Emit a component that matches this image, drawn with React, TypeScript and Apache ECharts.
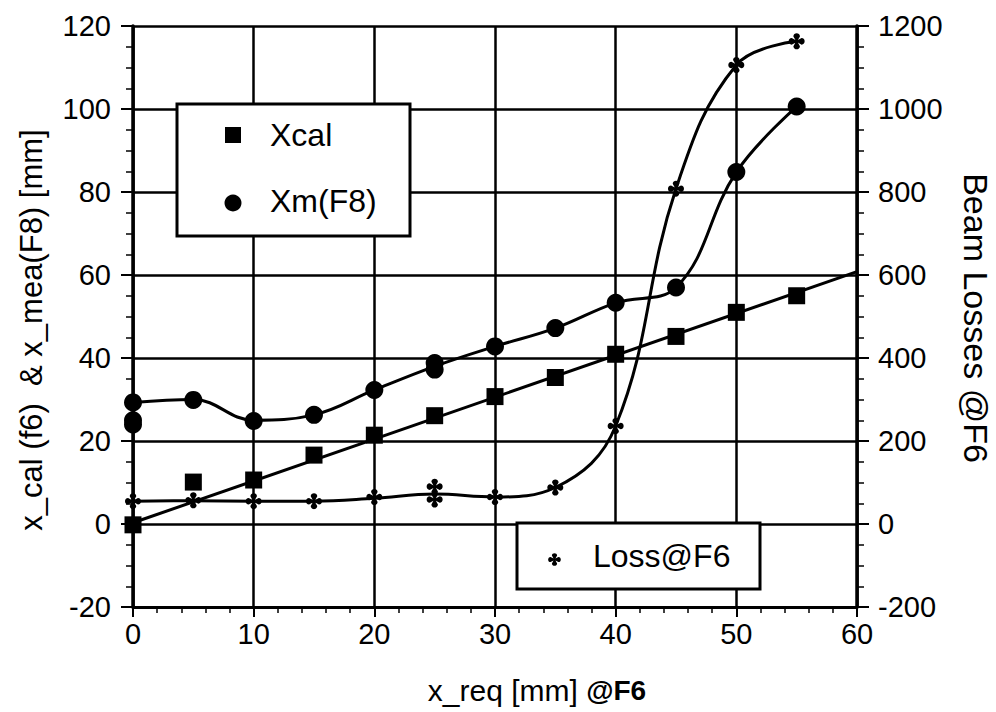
import React, { useEffect, useRef } from 'react';
import * as echarts from 'echarts';

// ---- Data ----
const xcalX = [0, 5, 10, 15, 20, 25, 30, 35, 40, 45, 50, 55];
const xcalY = [-0.2, 10.1, 10.6, 16.6, 21.4, 26.1, 30.7, 35.3, 40.9, 45.2, 51, 55];

const fitX = [0, 60];
const fitY = [0.3, 60.8];

const xmX = [0, 0, 0, 5, 10, 15, 20, 25, 25, 30, 35, 40, 45, 50, 55];
const xmY = [29.3, 25, 24, 29.9, 24.8, 26.3, 32.3, 38.8, 37.2, 42.8, 47.2, 53.3, 57, 84.8, 100.6];

const xmCurveX = [0, 5, 10, 15, 20, 25, 30, 35, 40, 45, 50, 55];
const xmCurveY = [29.3, 30, 25, 26.3, 32.3, 38, 42.8, 47.2, 53.3, 57, 84.8, 100.6];

const lossX = [0, 5, 10, 15, 20, 25, 25, 30, 35, 40, 45, 50, 55];
const lossY = [55, 57, 55, 55, 65, 90, 59, 65, 88, 236, 808, 1106, 1163];

const lossCurveX = [0, 5, 10, 15, 20, 25, 30, 35, 40, 45, 50, 55];
const lossCurveY = [55, 56, 55, 55, 62, 72, 65, 88, 236, 808, 1106, 1163];

const xTicks = { min: 0, max: 60, interval: 10 };
const yLeftTicks = { min: -20, max: 120, interval: 20 };
const yRightTicks = { min: -200, max: 1200, interval: 200 };

const FONT = '"Liberation Sans", Arial, Helvetica, sans-serif';
const LOSS_PATH =
  'M6,4 C6,-1 14,-1 14,4 L11.5,8.5 L16,6 C21,6 21,14 16,14 L11.5,11.5 L14,16 C14,21 6,21 6,16 L8.5,11.5 L4,14 C-1,14 -1,6 4,6 L8.5,8.5 Z';

try {
  echarts.graphic.registerShape('lossMark', echarts.graphic.extendPath(LOSS_PATH, {}));
} catch (e) {
  // already registered
}

const zip = (xs: number[], ys: number[]) => xs.map((x, i) => [x, ys[i]]);

export default function App() {
  const ref = useRef<HTMLDivElement>(null);
  useEffect(() => {
    if (!ref.current) return;
    const chart = echarts.init(ref.current, null, { renderer: 'svg' });
    const axisLabel = { color: '#000', fontSize: 29, fontFamily: FONT };
    const option: any = {
      animation: false,
      backgroundColor: '#fff',
      grid: { left: 133, right: 139, top: 26, bottom: 105, containLabel: false },
      xAxis: {
        type: 'value',
        min: xTicks.min,
        max: xTicks.max,
        interval: xTicks.interval,
        axisLine: { show: true, onZero: false, lineStyle: { color: '#000', width: 3 } },
        axisTick: { show: true, inside: false, length: 10, lineStyle: { color: '#000', width: 2 } },
        minorTick: { show: true, splitNumber: 5, length: 6, lineStyle: { color: '#000', width: 1.5 } },
        splitLine: { show: true, lineStyle: { color: '#000', width: 2.5 } },
        axisLabel: { ...axisLabel, margin: 12 },
      },
      yAxis: [
        {
          type: 'value',
          position: 'left',
          min: yLeftTicks.min,
          max: yLeftTicks.max,
          interval: yLeftTicks.interval,
          axisLine: { show: true, onZero: false, lineStyle: { color: '#000', width: 3.5 } },
          axisTick: { show: true, inside: false, length: 12, lineStyle: { color: '#000', width: 2 } },
          minorTick: { show: true, splitNumber: 4, length: 7, lineStyle: { color: '#000', width: 1.5 } },
          splitLine: { show: true, lineStyle: { color: '#000', width: 2.5 } },
          axisLabel: { ...axisLabel, margin: 22 },
        },
        {
          type: 'value',
          position: 'right',
          min: yRightTicks.min,
          max: yRightTicks.max,
          interval: yRightTicks.interval,
          axisLine: { show: true, onZero: false, lineStyle: { color: '#000', width: 3.5 } },
          axisTick: { show: true, inside: false, length: 12, lineStyle: { color: '#000', width: 2 } },
          minorTick: { show: true, splitNumber: 4, length: 7, lineStyle: { color: '#000', width: 1.5 } },
          splitLine: { show: false },
          axisLabel: { ...axisLabel, margin: 21, formatter: (v: number) => String(v) },
        },
      ],
      series: [
        {
          name: 'Xcal fit',
          type: 'line',
          yAxisIndex: 0,
          data: zip(fitX, fitY),
          showSymbol: false,
          lineStyle: { color: '#000', width: 3 },
          silent: true,
          z: 3,
        },
        {
          name: 'Xcal',
          type: 'scatter',
          yAxisIndex: 0,
          data: zip(xcalX, xcalY),
          symbol: 'rect',
          symbolSize: 17,
          itemStyle: { color: '#000', opacity: 1 },
          clip: false,
          z: 5,
        },
        {
          name: 'Xm(F8) curve',
          type: 'line',
          yAxisIndex: 0,
          data: zip(xmCurveX, xmCurveY),
          smooth: 0.4,
          showSymbol: false,
          lineStyle: { color: '#000', width: 3 },
          silent: true,
          z: 3,
        },
        {
          name: 'Xm(F8)',
          type: 'scatter',
          yAxisIndex: 0,
          data: zip(xmX, xmY),
          symbol: 'circle',
          symbolSize: 18,
          itemStyle: { color: '#000', opacity: 1 },
          clip: false,
          z: 5,
        },
        {
          name: 'Loss@F6 curve',
          type: 'line',
          yAxisIndex: 1,
          data: zip(lossCurveX, lossCurveY),
          smooth: 0.4,
          showSymbol: false,
          lineStyle: { color: '#000', width: 3 },
          silent: true,
          z: 3,
        },
        {
          name: 'Loss@F6',
          type: 'scatter',
          yAxisIndex: 1,
          data: zip(lossX, lossY),
          symbol: 'path://' + LOSS_PATH,
          symbolSize: 16,
          itemStyle: { color: '#000', opacity: 1 },
          clip: false,
          z: 5,
        },
      ],
      graphic: [
        // Legend box 1
        {
          type: 'rect',
          z: 100,
          shape: { x: 177, y: 104, width: 233, height: 132 },
          style: { fill: '#fff', stroke: '#000', lineWidth: 3 },
        },
        { type: 'rect', z: 101, shape: { x: 225, y: 127, width: 16, height: 16 }, style: { fill: '#000' } },
        {
          type: 'text',
          z: 101,
          x: 270,
          y: 135,
          style: { text: 'Xcal', fontSize: 32, fontFamily: FONT, fill: '#000', align: 'left', verticalAlign: 'middle' },
        },
        { type: 'circle', z: 101, shape: { cx: 233, cy: 203, r: 8.5 }, style: { fill: '#000' } },
        {
          type: 'text',
          z: 101,
          x: 270,
          y: 201,
          style: { text: 'Xm(F8)', fontSize: 32, fontFamily: FONT, fill: '#000', align: 'left', verticalAlign: 'middle' },
        },
        // Legend box 2
        {
          type: 'rect',
          z: 100,
          shape: { x: 517, y: 523, width: 243, height: 66 },
          style: { fill: '#fff', stroke: '#000', lineWidth: 3 },
        },
        {
          type: 'lossMark',
          z: 101,
          x: 548,
          y: 553,
          scaleX: 0.65,
          scaleY: 0.65,
          style: { fill: '#000' },
        },
        {
          type: 'text',
          z: 101,
          x: 593,
          y: 556,
          style: { text: 'Loss@F6', fontSize: 32, fontFamily: FONT, fill: '#000', align: 'left', verticalAlign: 'middle' },
        },
        // Axis titles
        {
          type: 'text',
          x: 537,
          y: 690,
          style: {
            text: '{a|x_req [mm] }{b|@F6}',
            align: 'center',
            verticalAlign: 'middle',
            fill: '#000',
            rich: {
              a: { fontSize: 30, fontFamily: FONT, fill: '#000' },
              b: { fontSize: 28, fontFamily: FONT, fontWeight: 'bold', fill: '#000' },
            },
          },
        },
        {
          type: 'text',
          x: 31,
          y: 330,
          rotation: Math.PI / 2,
          style: {
            text: 'x_cal (f6)  & x_mea(F8) [mm]',
            fontSize: 31,
            fontFamily: FONT,
            fill: '#000',
            align: 'center',
            verticalAlign: 'middle',
          },
        },
        {
          type: 'text',
          x: 976,
          y: 318,
          rotation: -Math.PI / 2,
          style: {
            text: 'Beam Losses @F6',
            fontSize: 34,
            fontFamily: FONT,
            fill: '#000',
            align: 'center',
            verticalAlign: 'middle',
          },
        },
      ],
    };
    chart.setOption(option);
    return () => chart.dispose();
  }, []);
  return (
    <div
      ref={ref}
      style={{ position: 'fixed', left: 0, top: 0, width: 996, height: 712, background: '#fff' }}
    />
  );
}
